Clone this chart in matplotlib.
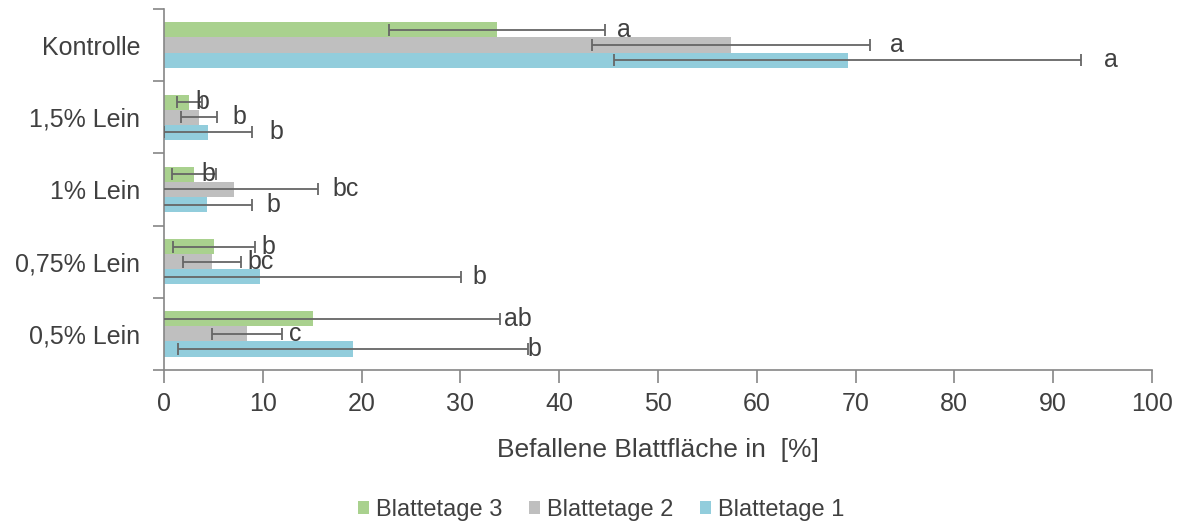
import matplotlib
matplotlib.use("Agg")
import matplotlib.pyplot as plt
import numpy as np

plt.rcParams['font.family'] = ['Liberation Sans', 'DejaVu Sans']

# Categories from bottom to top
categories = ["0,5% Lein", "0,75% Lein", "1% Lein", "1,5% Lein", "Kontrolle"]
series_names = ["Blattetage 1", "Blattetage 2", "Blattetage 3"]
colors = ["#92CDDC", "#BFBFBF", "#A9D18E"]

# mean values (same order as categories)
blatt1 = [19.1, 9.7, 4.35, 4.5, 69.2]
blatt2 = [8.4, 4.85, 7.05, 3.55, 57.4]
blatt3 = [15.1, 5.1, 3.05, 2.55, 33.7]

err1 = [17.7, 20.4, 4.6, 4.45, 23.6]
err2 = [3.55, 2.9, 8.5, 1.8, 14.1]
err3 = [18.9, 4.15, 2.2, 1.25, 10.9]

letters1 = ["b", "b", "b", "b", "a"]
letters2 = ["c", "bc", "bc", "b", "a"]
letters3 = ["ab", "b", "b", "b", "a"]

# x position (left edge) of significance letters, in data units
label_x1 = [36.8, 31.2, 10.4, 10.7, 95.2]
label_x2 = [12.7, 8.4, 17.1, 6.9, 73.5]
label_x3 = [34.4, 9.9, 3.8, 3.2, 45.9]

values = [blatt1, blatt2, blatt3]
errors = [err1, err2, err3]
letters = [letters1, letters2, letters3]
label_xs = [label_x1, label_x2, label_x3]

fig = plt.figure(figsize=(11.79, 5.26), dpi=100)
ax = fig.add_axes([0.1391, 0.2966, 0.977 - 0.1391, 0.983 - 0.2966])

txt_col = "#404040"
axis_col = "#868686"
err_col = "#666666"

y = np.arange(len(categories))
h = 0.21
offsets = [-h, 0.0, h]

handles = []
for i in range(3):
    b = ax.barh(y + offsets[i], values[i], height=h, color=colors[i],
                label=series_names[i], zorder=2)
    handles.append(b)
    ax.errorbar(values[i], y + offsets[i], xerr=errors[i], fmt='none',
                ecolor=err_col, elinewidth=1.3, capsize=4.3, capthick=1.3, zorder=3)
    for j in range(len(categories)):
        ax.text(label_xs[i][j], y[j] + offsets[i], letters[i][j], ha='left', va='center',
                fontsize=18, color=txt_col, zorder=4)

ax.set_xlim(0, 100)
ax.set_ylim(-0.5, 4.5)
ax.set_xticks(np.arange(0, 101, 10))
ax.tick_params(axis='x', labelsize=18, colors=axis_col, labelcolor=txt_col,
               length=9, width=1.2, pad=7)
ax.set_yticks(y)
ax.set_yticklabels(categories)
ax.tick_params(axis='y', which='major', length=0, labelsize=18, labelcolor=txt_col, pad=17)
ax.set_yticks(np.arange(-0.5, 4.6, 1.0), minor=True)
ax.tick_params(axis='y', which='minor', length=8, width=1.2, colors=axis_col)

for s in ['top', 'right']:
    ax.spines[s].set_visible(False)
for s in ['left', 'bottom']:
    ax.spines[s].set_color(axis_col)
    ax.spines[s].set_linewidth(1.2)

ax.set_xlabel("Befallene Blattfläche in  [%]", fontsize=19, color=txt_col, labelpad=16)

leg = fig.legend(handles=[handles[2], handles[1], handles[0]],
                 labels=[series_names[2], series_names[1], series_names[0]],
                 loc='center', bbox_to_anchor=(0.510, 0.03), ncol=3, frameon=False,
                 fontsize=17, handlelength=0.45, handleheight=0.45, handletextpad=0.3,
                 columnspacing=1.15)
for t in leg.get_texts():
    t.set_color(txt_col)

fig.savefig("out.png", dpi=100)
